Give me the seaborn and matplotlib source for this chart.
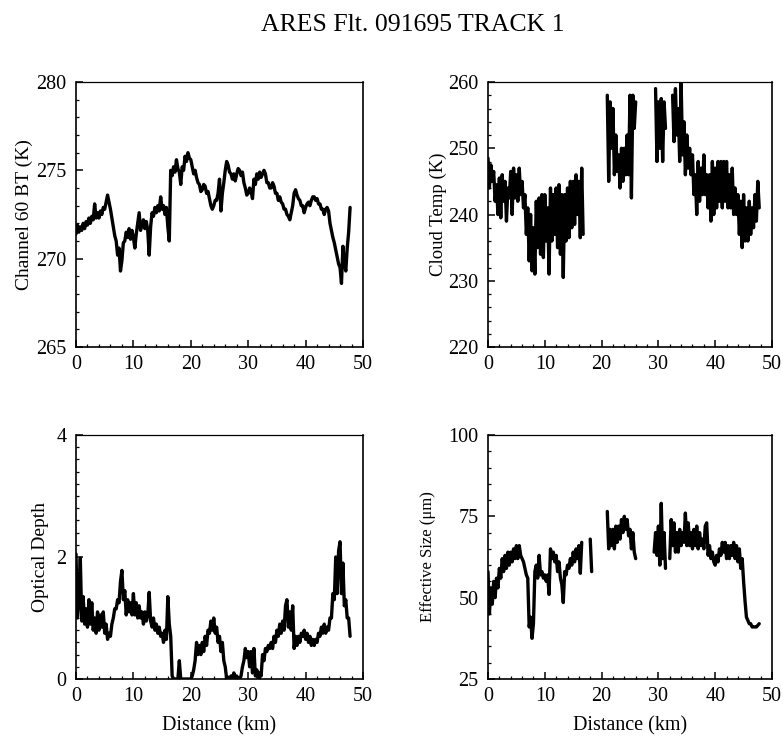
import numpy as np
import pandas as pd
import matplotlib
matplotlib.use("Agg")
import matplotlib.pyplot as plt
import seaborn as sns
from matplotlib.ticker import MultipleLocator

nan = np.nan
STEP_KM = 0.25  # sampling interval of the traces along track

title = "ARES Flt. 091695 TRACK 1"

channel60_bt = [
    271.4, 271.9, 271.5, 271.8, 271.6, 272.0, 271.7, 272.1,
    271.9, 272.3, 272.0, 272.4, 272.2, 273.1, 272.3, 272.6,
    272.3, 272.7, 272.5, 272.9, 272.8, 273.2, 273.6, 273.2,
    272.8, 272.3, 271.8, 271.3, 271.0, 270.2, 270.6, 269.3,
    269.9, 270.9, 271.0, 271.5, 271.2, 271.7, 271.1, 271.6,
    271.2, 270.6, 271.4, 272.0, 272.6, 271.6, 271.9, 272.2,
    271.7, 272.1, 271.6, 270.2, 271.8, 272.6, 272.4, 272.9,
    272.6, 273.0, 272.7, 273.5, 272.8, 273.0, 272.5, 272.9,
    271.8, 271.0, 275.0, 274.7, 275.2, 274.9, 275.6, 275.1,
    274.9, 274.2, 275.2, 275.0, 275.8, 275.5, 276.0, 275.7,
    275.6, 275.2, 274.8, 275.0, 274.6, 274.3, 274.2, 273.8,
    273.9, 274.2, 274.1, 273.7, 273.8, 273.4, 273.0, 272.8,
    273.0, 273.3, 273.3, 273.7, 274.5, 272.7, 273.7, 274.3,
    275.0, 275.5, 275.3, 274.9, 274.8, 274.5, 274.8, 274.4,
    274.8, 275.1, 275.0, 274.7, 274.9, 274.3, 274.0, 273.6,
    273.7, 274.0, 273.8, 273.4, 274.5, 274.2, 274.8, 274.5,
    274.9, 274.6, 274.8, 275.0, 274.8, 274.3, 274.3, 274.0,
    274.0, 274.3, 274.1, 273.7, 273.7, 273.3, 273.5, 273.2,
    273.1, 272.8, 272.8, 272.5, 272.4, 272.2, 272.6, 273.0,
    273.7, 273.9, 273.6, 273.4, 273.3, 273.0, 273.0, 272.6,
    272.9, 273.1, 273.2, 273.0, 273.3, 273.5, 273.5, 273.3,
    273.4, 273.1, 273.1, 272.8, 272.8, 272.5, 272.8, 272.9,
    272.7, 272.0, 271.6, 271.2, 270.9, 270.5, 270.1, 269.7,
    269.5, 268.6, 270.7, 269.8, 269.3, 270.6, 271.5, 272.9,
]

cloud_temp = [
    248.5, 244, 247.5, 245, 246.5, 242, 244.5, 240,
    245.5, 239.5, 246, 242, 245, 239, 244, 242.5,
    246.5, 240, 247, 242.5, 246, 242, 247, 243,
    245, 241, 243, 237, 241, 233, 240, 231.5,
    238, 231, 242, 235, 242.5, 234, 243, 233.5,
    243, 236, 241, 231, 244, 236, 243, 237,
    244, 235, 244.5, 234, 243, 230.5, 243, 236,
    244, 236.5, 245, 238, 245, 238.5, 246, 240,
    245, 236.5, 247, 237, nan, nan, nan, nan,
    nan, nan, nan, nan, nan, nan, nan, nan,
    nan, nan, nan, nan, 258, 245, 257, 250,
    256, 246, 252, 246.5, 249, 244, 250, 245,
    250, 246, 252, 246, 258, 242.5, 258, 253,
    257, nan, nan, nan, nan, nan, nan, nan,
    nan, nan, nan, nan, nan, nan, 259, 248,
    257, 250, 257.5, 248, 257, 253, nan, nan,
    nan, nan, 258, 251, 259, 252, 256, 248,
    260, 249, 254, 246, 252, 247, 250, 246,
    249, 243, 246, 240, 248, 242, 247, 243,
    249, 243, 246, 241, 246, 239, 248, 240,
    247, 241, 248, 242, 248, 241, 248, 242,
    248, 241, 246, 241, 247, 240, 244, 240,
    243, 237, 242, 235, 243, 236, 241, 236,
    242, 237, 241, 238, 243, 239, 245, 241,
]

optical_depth = [
    2.05, 1.0, 1.3, 1.98, 0.95, 1.35, 0.9, 1.15,
    0.85, 1.3, 0.9, 1.25, 0.8, 1.0, 0.75, 1.1,
    0.8, 1.05, 0.85, 1.1, 0.75, 0.9, 0.65, 0.75,
    0.7, 0.9, 1.0, 1.15, 1.15, 1.3, 1.25, 1.6,
    1.78, 1.3, 1.45, 1.05, 1.3, 1.1, 1.25, 1.05,
    1.4, 1.05, 1.25, 1.0, 1.2, 1.0, 1.1, 0.9,
    1.1, 0.95, 1.05, 1.42, 0.95, 0.85, 1.0, 0.8,
    0.9, 0.75, 0.85, 0.7, 0.75, 0.6, 0.8, 0.65,
    1.35, 0.9, 0.7, 0.05, 0.0, 0.0, 0.0, 0.0,
    0.3, 0.0, 0.0, 0.0, 0.0, 0.0, 0.0, 0.0,
    0.0, 0.05, 0.15, 0.3, 0.6, 0.4, 0.55, 0.4,
    0.6, 0.45, 0.7, 0.55, 0.8, 0.75, 0.95, 0.8,
    1.0, 0.75, 0.85, 0.6, 0.7, 0.45, 0.6, 0.3,
    0.2, 0.0, 0.03, 0.0, 0.05, 0.0, 0.1, 0.0,
    0.05, 0.0, 0.0, 0.05, 0.2, 0.3, 0.5, 0.35,
    0.45, 0.2, 0.45, 0.1, 0.5, 0.05, 0.15, 0.0,
    0.1, 0.05, 0.4, 0.3, 0.5, 0.45, 0.55, 0.5,
    0.6, 0.5, 0.7, 0.6, 0.8, 0.7, 0.9, 0.75,
    0.95, 0.8, 1.2, 1.3, 0.85, 1.1, 0.8, 1.2,
    0.5, 0.7, 0.55, 0.7, 0.6, 0.75, 0.7, 0.8,
    0.65, 0.75, 0.6, 0.7, 0.55, 0.65, 0.55, 0.65,
    0.6, 0.75, 0.7, 0.85, 0.75, 0.9, 0.75, 0.85,
    0.8, 1.0, 1.0, 1.4, 1.3, 2.0, 1.4, 2.1,
    2.25, 1.4, 1.9, 1.2, 1.3, 1.0, 1.0, 0.7,
]

effective_size = [
    58, 45, 53, 48, 55, 50, 56, 53,
    59, 56, 62, 58, 63, 59, 64, 60,
    64, 61, 65, 62, 66, 62, 66, 63,
    62, 61, 59, 57, 56, 41, 44, 37.5,
    42, 58, 60, 56, 63, 57, 58, 56,
    57, 55, 57, 51, 65, 62, 64, 61,
    63, 58, 61, 56, 54, 48.5, 58, 57,
    60, 59, 62, 60, 64, 61, 65, 62,
    66, 57.5, 67, nan, nan, nan, nan, nan,
    68, 58, nan, nan, nan, nan, nan, nan,
    nan, nan, nan, nan, 76.5, 65, 71, 66,
    71, 65, 72, 67, 72, 68, 74, 70,
    75, 71, 74, 69, 71, 65, 70, 64,
    62, nan, nan, nan, nan, nan, nan, nan,
    nan, nan, nan, nan, nan, 64, 70, 63,
    72, 60, 79, 62, 70, 59, nan, nan,
    62, 74, 66, 73, 64, 70, 64, 71,
    66, 70, 67, 76, 66, 73, 66, 70,
    65, 71, 66, 72, 65, 70, 66, 68,
    65, 72, 73, 63, 66, 62, 64, 61,
    60, 63, 61, 65, 63, 67, 64, 67,
    62, 66, 62, 66, 63, 67, 62, 66,
    61, 65, 59, 62, 55, 49, 44, 43,
    42, 42, 41, 41, 41, 41, 41.5, 42,
]

sns.set_theme(style="ticks")
plt.rcParams["font.family"] = ["Liberation Serif", "DejaVu Serif"]
plt.rcParams["axes.edgecolor"] = "black"
plt.rcParams["axes.linewidth"] = 1.2

fig = plt.figure(figsize=(7.83, 7.38), dpi=100)
W, H = 783, 738


def add_axes(left, top, right, bottom):
    return fig.add_axes([left / W, 1 - bottom / H, (right - left) / W, (bottom - top) / H])


def panel(ax, values, ylim, ymajor, yminor, ylabel, label_size, labelpad, xlabel=None):
    dist = np.arange(len(values)) * STEP_KM
    df = pd.DataFrame({"dist": dist, "val": values})
    df["seg"] = df["val"].isna().cumsum()
    df = df.dropna()
    sns.lineplot(data=df, x="dist", y="val", units="seg", estimator=None,
                 sort=False, color="black", lw=2.4, ax=ax)
    ax.set_xlim(0, 50)
    ax.set_ylim(*ylim)
    ax.xaxis.set_major_locator(MultipleLocator(10))
    ax.xaxis.set_minor_locator(MultipleLocator(2))
    ax.yaxis.set_major_locator(MultipleLocator(ymajor))
    ax.yaxis.set_minor_locator(MultipleLocator(yminor))
    ax.tick_params(which="both", direction="in", top=False, right=False,
                   labelsize=14.5, colors="black")
    ax.tick_params(axis="y", which="both", pad=7)
    ax.tick_params(axis="x", which="both", pad=6)
    ax.tick_params(which="major", length=5, width=1.1)
    ax.tick_params(which="minor", length=2.5, width=0.9)
    ax.set_ylabel(ylabel, fontsize=label_size, labelpad=labelpad, color="black")
    ax.set_xlabel(xlabel if xlabel else "", fontsize=14.5, labelpad=7, color="black")
    for s in ax.spines.values():
        s.set_visible(True)
        s.set_color("black")
    ax.spines["top"].set_linewidth(0.9)


ax1 = add_axes(76, 82, 363, 347)
panel(ax1, channel60_bt, (265, 280), 5, 1, "Channel 60 BT (K)", 14, 2)
ax2 = add_axes(488, 82, 772, 347)
panel(ax2, cloud_temp, (220, 260), 10, 2, "Cloud Temp (K)", 13.5, 0.5)
ax3 = add_axes(76, 435, 363, 679)
panel(ax3, optical_depth, (0, 4), 2, 0.2, "Optical Depth", 14, 5, "Distance (km)")
ax4 = add_axes(488, 435, 772, 679)
panel(ax4, effective_size, (25, 100), 25, 5, "Effective Size (\u03bcm)", 12, 9, "Distance (km)")

fig.text(413 / W, 1 - 25 / H, title, ha="center", va="center", fontsize=18.5, color="black")

fig.savefig("out.png", dpi=100, facecolor="white")
